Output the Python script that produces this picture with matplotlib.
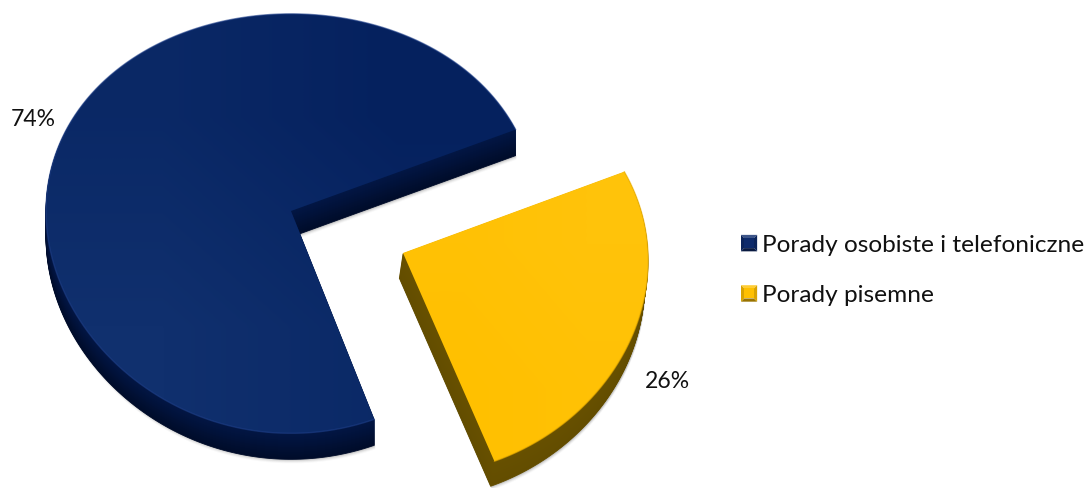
import numpy as np
import matplotlib
matplotlib.use("Agg")
import matplotlib.pyplot as plt
from matplotlib.colors import LinearSegmentedColormap, to_rgb
from matplotlib.legend_handler import HandlerBase
from matplotlib.patches import Patch, Polygon

labels = ["Porady osobiste i telefoniczne", "Porady pisemne"]
shares = [74, 26]
colors = ["#0d2a6b", "#ffc000"]

plt.rcParams["font.family"] = ["Lato", "DejaVu Sans"]

fig = plt.figure(figsize=(10.89, 4.89), dpi=100)
ax = fig.add_axes([0, 0, 1, 1])
ax.set_xlim(0, 1089)
ax.set_ylim(489, 0)
ax.axis("off")


# tilted pie: top edge a bit flatter than the bottom edge
def face(center, a0, a1, shear):
    t = np.radians(np.linspace(a0, a1, 300))
    s, c = np.sin(t), np.cos(t)
    f = 1 + 0.06 * s
    x = center[0] + 245 * c + shear * s
    y = center[1] - 209 * s / f
    return np.column_stack([x, y])


def mix(c1, c2, n):
    c1, c2 = np.array(to_rgb(c1)), np.array(to_rgb(c2))
    return [c1 + (c2 - c1) * i / max(n - 1, 1) for i in range(n)]


def draw_slice(center, a0, a1, depth, lean, shear, side_top, side_bot, grad, rim, z):
    arc = face(center, a0, a1, shear)
    pts = np.vstack([[center], arc])

    # soft shadow below the slab
    for off, al in [(4, 0.04), (3, 0.07), (2, 0.10), (1, 0.16)]:
        ax.fill(pts[:, 0] + lean * depth + 1, pts[:, 1] + depth + off,
                color="#555555", alpha=al, lw=0, zorder=z)

    # thickness
    shades = mix(side_bot, side_top, depth)
    for i, col in enumerate(shades):
        d = depth - i
        ax.fill(pts[:, 0] + lean * d, pts[:, 1] + d, color=col, lw=0.6, zorder=z + 1)

    # top face with a soft gradient
    cmap = LinearSegmentedColormap.from_list("g", grad)
    xmin, xmax = pts[:, 0].min(), pts[:, 0].max()
    ymin, ymax = pts[:, 1].min(), pts[:, 1].max()
    g = np.array([[0.0, 0.5], [0.5, 1.0]])
    im = ax.imshow(g[::-1], cmap=cmap, extent=[xmin, xmax, ymax, ymin],
                   interpolation="bilinear", aspect="auto", zorder=z + 2, vmin=0, vmax=1)
    clip = Polygon(pts, closed=True, transform=ax.transData)
    im.set_clip_path(clip)
    ax.set_xlim(0, 1089)
    ax.set_ylim(489, 0)

    # light rim along the round edge
    ax.plot(arc[:, 0], arc[:, 1], color=rim, lw=1.0, alpha=0.6, zorder=z + 3,
            solid_capstyle="round")


# slices start at the same angle and go round by their share
start = 23.5
sweep = [v / sum(shares) * 360 for v in shares]

draw_slice((291, 212), start, start + sweep[0], 26, 0.0, 0, "#021644", "#000c2a",
           ["#10306e", "#05215e"], "#1f3f88", 2)
draw_slice((403, 254), start - sweep[1], start, 25, -0.15, -8.5, "#675000", "#634d00",
           ["#ffc000", "#ffc30a"], "#eeb000", 10)

ax.text(33, 119, f"{shares[0]}%", fontsize=16.6, color="#111111", ha="center", va="center", zorder=20)
ax.text(667, 382, f"{shares[1]}%", fontsize=16.6, color="#111111", ha="center", va="center", zorder=20)


# small bevelled squares for the legend
class BevelHandler(HandlerBase):
    def create_artists(self, legend, orig, x0, y0, w, h, fontsize, trans):
        base = orig.get_facecolor()[:3]
        light = [min(1, v * 0.8 + 0.2) for v in base]
        dark = [v * 0.6 for v in base]
        mid = [v * 0.85 for v in base]
        b = min(w, h) * 0.2
        x1, y1 = x0 + w, y0 + h
        out = []
        sides = [
            ([(x0, y1), (x1, y1), (x1 - b, y1 - b), (x0 + b, y1 - b)], light),
            ([(x0, y0), (x1, y0), (x1 - b, y0 + b), (x0 + b, y0 + b)], dark),
            ([(x0, y0), (x0, y1), (x0 + b, y1 - b), (x0 + b, y0 + b)], mid),
            ([(x1, y0), (x1, y1), (x1 - b, y1 - b), (x1 - b, y0 + b)], mid),
            ([(x0 + b, y0 + b), (x1 - b, y0 + b), (x1 - b, y1 - b), (x0 + b, y1 - b)], base),
        ]
        for p, col in sides:
            out.append(Polygon(p, closed=True, facecolor=col, edgecolor="none", transform=trans))
        return out


handles = [Patch(facecolor=c, label=l) for c, l in zip(colors, labels)]
leg = ax.legend(handles=handles, loc="upper left", bbox_to_anchor=(741 / 1089, 1 - 235 / 489),
                frameon=False, fontsize=17.6, handlelength=0.66, handleheight=0.66,
                handletextpad=0.2, labelspacing=1.2, borderpad=0, borderaxespad=0,
                handler_map={Patch: BevelHandler()})
for t in leg.get_texts():
    t.set_color("#111111")

fig.savefig("out.png", dpi=100, facecolor="white")
